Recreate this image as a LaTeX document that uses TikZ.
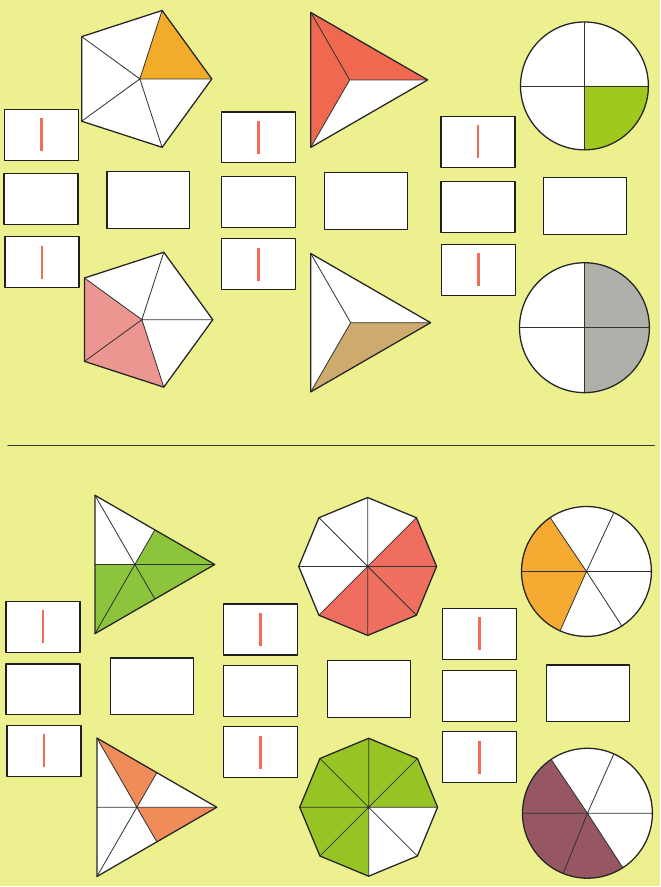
\documentclass[tikz,border=0pt]{standalone}
\usepackage{tikz}
\usepackage{xcolor}
\definecolor{paper}{RGB}{236,240,142}
\definecolor{barred}{RGB}{240,110,88}
\definecolor{pentorange}{RGB}{242,172,42}
\definecolor{pentpink}{RGB}{236,150,145}
\definecolor{trired}{RGB}{238,105,80}
\definecolor{tritan}{RGB}{205,170,110}
\definecolor{quadgreen}{RGB}{160,200,30}
\definecolor{halfgray}{RGB}{176,176,170}
\definecolor{trigreen}{RGB}{140,196,60}
\definecolor{trisalmon}{RGB}{240,140,90}
\definecolor{octred}{RGB}{238,110,95}
\definecolor{octgreen}{RGB}{150,196,36}
\definecolor{sixorange}{RGB}{245,170,50}
\definecolor{sixbrown}{RGB}{150,86,100}
\newcommand{\fracbar}{\textcolor{barred}{\rule{2.4pt}{0.99cm}}}

\begin{document}
\begin{tikzpicture}[x=0.03cm,y=0.03cm,line join=round,line cap=round,
  edge/.style={line width=1.1pt,draw=black!85},
  spoke/.style={line width=0.7pt,draw=black!80},
  numbox/.style={draw=black!88,fill=white,line width=1.1pt,inner sep=0pt,
    minimum width=2.22cm,minimum height=1.53cm},
  sumbox/.style={numbox,minimum width=2.49cm,minimum height=1.71cm}]
\fill[paper] (0,0) rectangle (661,887);

% upper half
\begin{scope}[shift={(140,808)}]
\fill[white] (0:72) -- (72:72) -- (144:72) -- (216:72) -- (288:72) -- cycle;
\fill[pentorange] (0,0) -- (0:72) -- (72:72) -- cycle;
\draw[spoke] (0,0) -- (0:72) (0,0) -- (72:72) (0,0) -- (144:72) (0,0) -- (216:72) (0,0) -- (288:72);
\draw[edge] (0:72) -- (72:72) -- (144:72) -- (216:72) -- (288:72) -- cycle;
\end{scope}
\begin{scope}[shift={(142,567)}]
\fill[white] (0:71) -- (72:71) -- (144:71) -- (216:71) -- (288:71) -- cycle;
\fill[pentpink] (0,0) -- (144:71) -- (216:71) -- (288:71) -- cycle;
\draw[spoke] (0,0) -- (0:71) (0,0) -- (72:71) (0,0) -- (144:71) (0,0) -- (216:71) (0,0) -- (288:71);
\draw[edge] (0:71) -- (72:71) -- (144:71) -- (216:71) -- (288:71) -- cycle;
\end{scope}
\begin{scope}[shift={(350,807)}]
\fill[white] (0:78) -- (120:78) -- (240:78) -- cycle;
\fill[trired] (0,0) -- (0:78) -- (120:78) -- (240:78) -- cycle;
\draw[spoke] (0,0) -- (0:78) (0,0) -- (120:78) (0,0) -- (240:78);
\draw[edge] (0:78) -- (120:78) -- (240:78) -- cycle;
\end{scope}
\begin{scope}[shift={(351,564)}]
\fill[white] (0:80) -- (120:80) -- (240:80) -- cycle;
\fill[tritan] (0,0) -- (240:80) -- (0:80) -- cycle;
\draw[spoke] (0,0) -- (0:80) (0,0) -- (120:80) (0,0) -- (240:80);
\draw[edge] (0:80) -- (120:80) -- (240:80) -- cycle;
\end{scope}
\begin{scope}[shift={(585,801)}]
\fill[white] (0,0) circle[radius=64];
\fill[quadgreen] (0,0) -- (270:64) arc[start angle=270,end angle=360,radius=64] -- cycle;
\draw[spoke] (0:64) -- (180:64) (90:64) -- (270:64);
\draw[edge] (0,0) circle[radius=64];
\end{scope}
\begin{scope}[shift={(585,559)}]
\fill[white] (0,0) circle[radius=65];
\fill[halfgray] (0,0) -- (270:65) arc[start angle=-90,end angle=90,radius=65] -- cycle;
\draw[spoke] (0:65) -- (180:65) (90:65) -- (270:65);
\draw[edge] (0,0) circle[radius=65];
\end{scope}

\node[numbox] (pentTop) at (41.5,752) {\fracbar};
\node[numbox] (pentMid) at (41,688) {};
\node[numbox] (pentLow) at (42,624.5) {\fracbar};
\node[sumbox] (pentSide) at (148.5,687) {};
\node[numbox] (triTop) at (259,749.5) {\fracbar};
\node[numbox] (triMid) at (259,684.5) {};
\node[numbox] (triLow) at (259,622.5) {\fracbar};
\node[sumbox] (triSide) at (366.5,685.5) {};
\node[numbox] (circTop) at (478.5,745) {\fracbar};
\node[numbox] (circMid) at (478.5,680) {};
\node[numbox] (circLow) at (479,617) {\fracbar};
\node[sumbox] (circSide) at (585.5,680.5) {};

\draw[line width=1.1pt,black!80] (8,441) -- (655,441);

% lower half
\begin{scope}[shift={(135,322)}]
\fill[white] (0:80) -- (120:80) -- (240:80) -- cycle;
\fill[trigreen] (0,0) -- (60:40) -- (0:80) -- (300:40) -- (240:80) -- (180:40) -- cycle;
\draw[spoke] (0:80) -- (180:40) (120:80) -- (300:40) (240:80) -- (60:40);
\draw[edge] (0:80) -- (120:80) -- (240:80) -- cycle;
\end{scope}
\begin{scope}[shift={(137,79)}]
\fill[white] (0:80) -- (120:80) -- (240:80) -- cycle;
\fill[trisalmon] (0,0) -- (120:80) -- (60:40) -- cycle;
\fill[trisalmon] (0,0) -- (0:80) -- (300:40) -- cycle;
\draw[spoke] (0:80) -- (180:40) (120:80) -- (300:40) (240:80) -- (60:40);
\draw[edge] (0:80) -- (120:80) -- (240:80) -- cycle;
\end{scope}
\begin{scope}[shift={(368,320)}]
\fill[white] (0:69) -- (45:69) -- (90:69) -- (135:69) -- (180:69) -- (225:69) -- (270:69) -- (315:69) -- cycle;
\fill[octred] (0,0) -- (225:69) -- (270:69) -- (315:69) -- (0:69) -- (45:69) -- cycle;
\draw[spoke] (0:69) -- (180:69) (45:69) -- (225:69) (90:69) -- (270:69) (135:69) -- (315:69);
\draw[edge] (0:69) -- (45:69) -- (90:69) -- (135:69) -- (180:69) -- (225:69) -- (270:69) -- (315:69) -- cycle;
\end{scope}
\begin{scope}[shift={(369,79)}]
\fill[white] (0:69) -- (45:69) -- (90:69) -- (135:69) -- (180:69) -- (225:69) -- (270:69) -- (315:69) -- cycle;
\fill[octgreen] (0,0) -- (0:69) -- (45:69) -- (90:69) -- (135:69) -- (180:69) -- (225:69) -- (270:69) -- cycle;
\draw[spoke] (0:69) -- (180:69) (45:69) -- (225:69) (90:69) -- (270:69) (135:69) -- (315:69);
\draw[edge] (0:69) -- (45:69) -- (90:69) -- (135:69) -- (180:69) -- (225:69) -- (270:69) -- (315:69) -- cycle;
\end{scope}
\begin{scope}[shift={(587,315)}]
\fill[white] (0,0) circle[radius=65];
\fill[sixorange] (0,0) -- (124:65) arc[start angle=124,end angle=246,radius=65] -- cycle;
\draw[spoke] (0:65) -- (180:65) (0,0) -- (65:65) (0,0) -- (124:65) (0,0) -- (246:65) (0,0) -- (303:65);
\draw[edge] (0,0) circle[radius=65];
\end{scope}
\begin{scope}[shift={(588,73)}]
\fill[white] (0,0) circle[radius=65];
\fill[sixbrown] (0,0) -- (124:65) arc[start angle=124,end angle=303,radius=65] -- cycle;
\draw[spoke] (0:65) -- (180:65) (0,0) -- (66:65) (0,0) -- (124:65) (0,0) -- (248:65) (0,0) -- (303:65);
\draw[edge] (0,0) circle[radius=65];
\end{scope}

\node[numbox] (gtriTop) at (43,259.5) {\fracbar};
\node[numbox] (gtriMid) at (43,197) {};
\node[numbox] (gtriLow) at (44,135.5) {\fracbar};
\node[sumbox] (gtriSide) at (152,200) {};
\node[numbox] (octTop) at (261,257) {\fracbar};
\node[numbox] (octMid) at (261,195.5) {};
\node[numbox] (octLow) at (261,134) {\fracbar};
\node[sumbox] (octSide) at (369.5,197.5) {};
\node[numbox] (sixTop) at (480,252.5) {\fracbar};
\node[numbox] (sixMid) at (480,190.5) {};
\node[numbox] (sixLow) at (480,129) {\fracbar};
\node[sumbox] (sixSide) at (588.5,193) {};
\end{tikzpicture}
\end{document}
